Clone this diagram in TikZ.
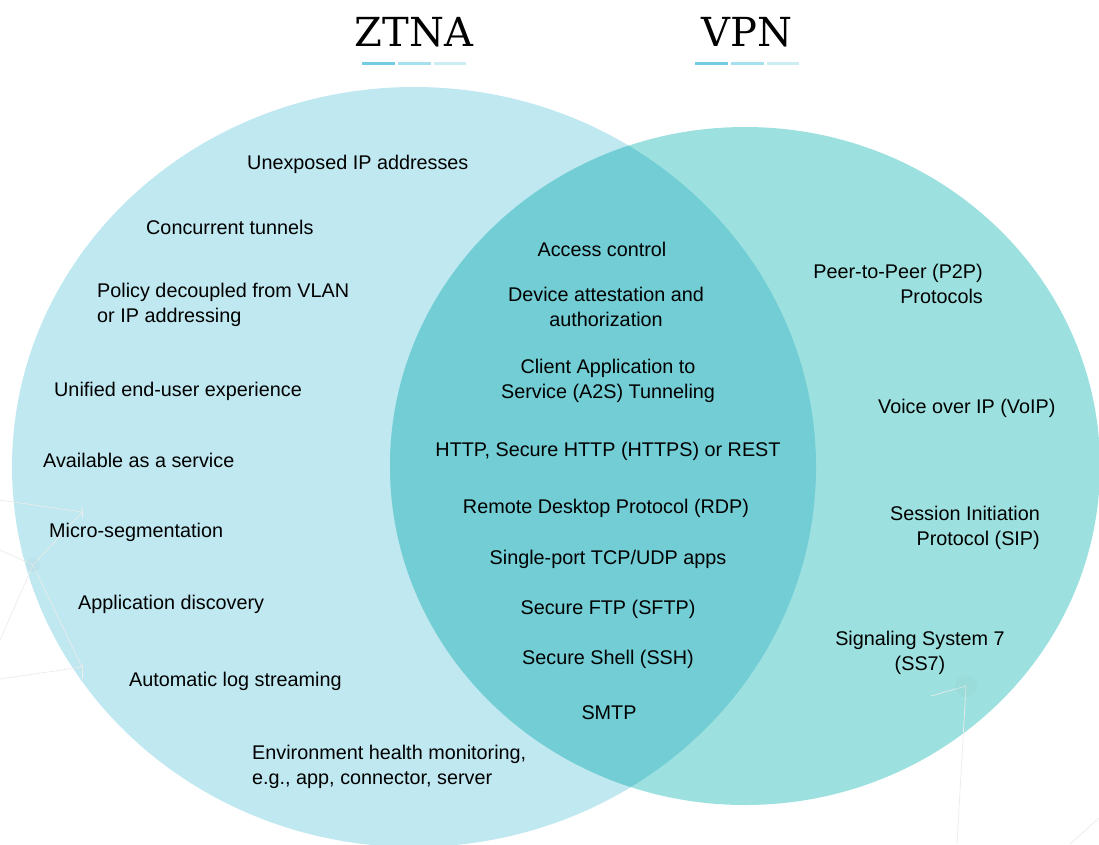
\documentclass[tikz,border=0pt]{standalone}
\usepackage{fontspec}
\setmainfont{Liberation Sans}
\newfontfamily\titlefont{DejaVu Serif}
\definecolor{ztnablue}{HTML}{BFE8F1}
\definecolor{vpnteal}{HTML}{9CE1DF}
\definecolor{overlapteal}{HTML}{72CDD5}
\definecolor{barone}{HTML}{72CDE2}
\definecolor{bartwo}{HTML}{A6E0EE}
\definecolor{barthree}{HTML}{CDEDF5}
\definecolor{netgray}{HTML}{EBEBEB}
\begin{document}
\begin{tikzpicture}[x=1pt,y=-1pt,
    item/.style={inner sep=0pt, font=\fontsize{19.8}{24.5}\selectfont},
    heading/.style={inner sep=0pt, font=\titlefont\fontsize{40}{40}\selectfont},
    bar/.style={line width=3pt}]

    \useasboundingbox (0,0) rectangle (1099,844);
    \clip (0,0) rectangle (1099,844);

    % Circles
    \fill[ztnablue] (414,467) ellipse [x radius=402, y radius=380];
    \fill[vpnteal] (745,466) ellipse [x radius=355, y radius=339];
    \begin{scope}
      \clip (414,467) ellipse [x radius=402, y radius=380];
      \fill[overlapteal] (745,466) ellipse [x radius=355, y radius=339];
    \end{scope}

    % Faint network in the background
    \draw[netgray, line width=0.7pt] (0,500) -- (82,512) -- (33,565) -- (82,667) -- (0,679);
    \draw[netgray, line width=0.7pt] (82,508) -- (82,518);
    \draw[netgray, line width=0.7pt] (82,665) -- (82,679);
    \draw[netgray, line width=0.7pt] (0,550) -- (33,565) -- (0,640);
    \fill[ztnablue!85!gray, opacity=0.3] (33,565) circle [radius=7];
    \draw[netgray, line width=0.7pt] (931,696) -- (966,686) -- (957,844);
    \draw[netgray, line width=0.7pt] (1070,844) -- (1099,818);
    \fill[vpnteal!85!gray, opacity=0.3] (966,686) circle [radius=11];

    % Headings
    \node[heading, anchor=base] (ztna) at (414,46) {ZTNA};
    \node[heading, anchor=base] (vpn) at (747,46) {VPN};

    \draw[bar, barone] (362,63) -- (395,63);
    \draw[bar, bartwo] (398,63) -- (431,63);
    \draw[bar, barthree] (434,63) -- (466,63);

    \draw[bar, barone] (695,63) -- (728,63);
    \draw[bar, bartwo] (731,63) -- (764,63);
    \draw[bar, barthree] (767,63) -- (799,63);

    % ZTNA only
    \node[item, anchor=base west] (unexposed) at (247,169) {Unexposed IP addresses};
    \node[item, anchor=base west] (tunnels) at (146,234) {Concurrent tunnels};
    \node[item, anchor=base west, align=left] (policy) at (97,322) {Policy decoupled from VLAN\\or IP addressing};
    \node[item, anchor=base west] (unified) at (54,396) {Unified end-user experience};
    \node[item, anchor=base west] (service) at (43,467) {Available as a service};
    \node[item, anchor=base west] (microseg) at (49,537) {Micro-segmentation};
    \node[item, anchor=base west] (discovery) at (78,609) {Application discovery};
    \node[item, anchor=base west] (logstream) at (129,686) {Automatic log streaming};
    \node[item, anchor=base west, align=left] (health) at (252,784) {Environment health monitoring,\\e.g., app, connector, server};

    % Both
    \node[item, anchor=base] (access) at (602,256) {Access control};
    \node[item, anchor=base, align=center] (attestation) at (606,326) {Device attestation and\\authorization};
    \node[item, anchor=base, align=center] (atwos) at (608,398) {Client Application to\\Service (A2S) Tunneling};
    \node[item, anchor=base] (http) at (608,456) {HTTP, Secure HTTP (HTTPS) or REST};
    \node[item, anchor=base] (rdp) at (606,513) {Remote Desktop Protocol (RDP)};
    \node[item, anchor=base] (singleport) at (608,564) {Single-port TCP/UDP apps};
    \node[item, anchor=base] (sftp) at (608,614) {Secure FTP (SFTP)};
    \node[item, anchor=base] (ssh) at (608,664) {Secure Shell (SSH)};
    \node[item, anchor=base] (smtp) at (609,719) {SMTP};

    % VPN only
    \node[item, anchor=base east, align=right] (ptwop) at (983,303) {Peer-to-Peer (P2P)\\Protocols};
    \node[item, anchor=base west] (voip) at (878,413) {Voice over IP (VoIP)};
    \node[item, anchor=base east, align=right] (sip) at (1040,545) {Session Initiation\\Protocol (SIP)};
    \node[item, anchor=base, align=center] (sseven) at (920,670) {Signaling System 7\\(SS7)};

\end{tikzpicture}
\end{document}
